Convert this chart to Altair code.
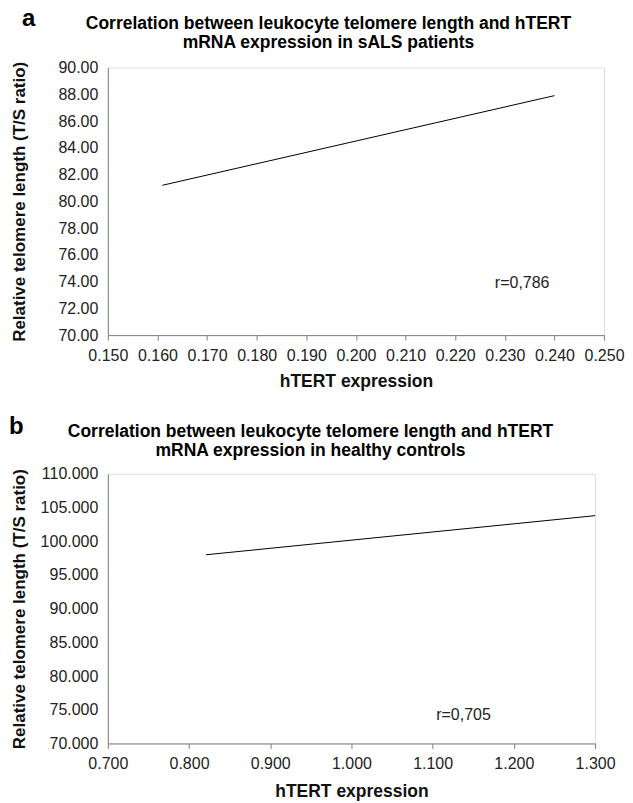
import altair as alt
import pandas as pd

FONT = "Liberation Sans"

# Panel a (sALS patients)
a_title = ["Correlation between leukocyte telomere length and hTERT",
           "mRNA expression in sALS patients"]
a_hterT = [0.161, 0.240]
a_tl = [81.2, 87.9]
a_xticks = [0.150, 0.160, 0.170, 0.180, 0.190, 0.200, 0.210, 0.220, 0.230, 0.240, 0.250]
a_yticks = [70, 72, 74, 76, 78, 80, 82, 84, 86, 88, 90]
a_r_label = ["r=0,786"]
a_r_pos = [0.2335, 73.9]

# Panel b (healthy controls)
b_title = ["Correlation between leukocyte telomere length and hTERT",
           "mRNA expression in healthy controls"]
b_hterT = [0.821, 1.300]
b_tl = [98.0, 103.8]
b_xticks = [0.7, 0.8, 0.9, 1.0, 1.1, 1.2, 1.3]
b_yticks = [70, 75, 80, 85, 90, 95, 100, 105, 110]
b_r_label = ["r=0,705"]
b_r_pos = [1.138, 74.15]

XTITLE = "hTERT expression"
YTITLE = "Relative telomere length (T/S ratio)"


def panel(letter, title, xs, ys, xticks, yticks, xfmt, yfmt, rlab, rpos,
          w, h, title_cx, title_y1, letter_x, letter_y, lab_pad, tit_pad):
    df = pd.DataFrame({"x": xs, "y": ys})
    rdf = pd.DataFrame({"x": [rpos[0]], "y": [rpos[1]], "t": rlab})
    xs_ = alt.Scale(domain=[xticks[0], xticks[-1]], nice=False, zero=False)
    ys_ = alt.Scale(domain=[yticks[0], yticks[-1]], nice=False, zero=False)
    xax = alt.Axis(values=xticks, format=xfmt, title=XTITLE, grid=False,
                   tickSize=5, tickColor="#808080", domainColor="#808080",
                   labelFontSize=16, labelColor="#222222", labelFont=FONT,
                   labelPadding=lab_pad, titleFontSize=17.5, titleFont=FONT,
                   titleFontWeight="bold", titleColor="#111111",
                   titlePadding=tit_pad, labelFlush=False, labelOverlap=False)
    yax = alt.Axis(values=yticks, format=yfmt, title=YTITLE, grid=False,
                   ticks=False, domainColor="#808080",
                   labelFontSize=16, labelColor="#222222", labelFont=FONT,
                   labelPadding=10, titleFontSize=17, titleFont=FONT,
                   titleFontWeight="bold", titleColor="#111111",
                   titleX=-88, titleY=h / 2, titleAngle=270,
                   titleAlign="center", titleBaseline="middle",
                   labelFlush=False, labelOverlap=False)
    X = alt.X("x:Q", scale=xs_, axis=xax)
    Y = alt.Y("y:Q", scale=ys_, axis=yax)
    line = alt.Chart(df).mark_line(color="black", strokeWidth=1).encode(x=X, y=Y)
    rtext = alt.Chart(rdf).mark_text(font=FONT, fontSize=16, color="#222222",
                                     align="center", baseline="middle").encode(
        x=X, y=Y, text="t:N")
    ltext = alt.Chart(pd.DataFrame({"t": [letter]})).mark_text(
        font=FONT, fontSize=24, fontWeight="bold", color="black",
        align="left", baseline="alphabetic").encode(
        x=alt.value(letter_x), y=alt.value(letter_y), text="t:N")
    t1 = alt.Chart(pd.DataFrame({"t": [title[0]]})).mark_text(
        font=FONT, fontSize=17.5, fontWeight="bold", color="black",
        align="center", baseline="alphabetic").encode(
        x=alt.value(title_cx), y=alt.value(title_y1), text="t:N")
    t2 = alt.Chart(pd.DataFrame({"t": [title[1]]})).mark_text(
        font=FONT, fontSize=17.5, fontWeight="bold", color="black",
        align="center", baseline="alphabetic").encode(
        x=alt.value(title_cx), y=alt.value(title_y1 + 19), text="t:N")
    return alt.layer(line, rtext, ltext, t1, t2).properties(width=w, height=h)


pa = panel("a", a_title, a_hterT, a_tl, a_xticks, a_yticks, ".3f", ".2f",
           a_r_label, a_r_pos, 497, 268, 221, -39, -86, -42, 7, 9)
pb = panel("b", b_title, b_hterT, b_tl, b_xticks, b_yticks, ".3f", ".3f",
           b_r_label, b_r_pos, 488, 270, 203, -37, -99, -40, 7, 11)

chart = alt.vconcat(pa, pb, spacing=24).properties(
    padding={"left": 0, "top": -3, "right": 0, "bottom": 0}
).configure_view(stroke=None).configure(background="white")

chart.save("out.html", embed_options={"renderer": "svg", "actions": False})
